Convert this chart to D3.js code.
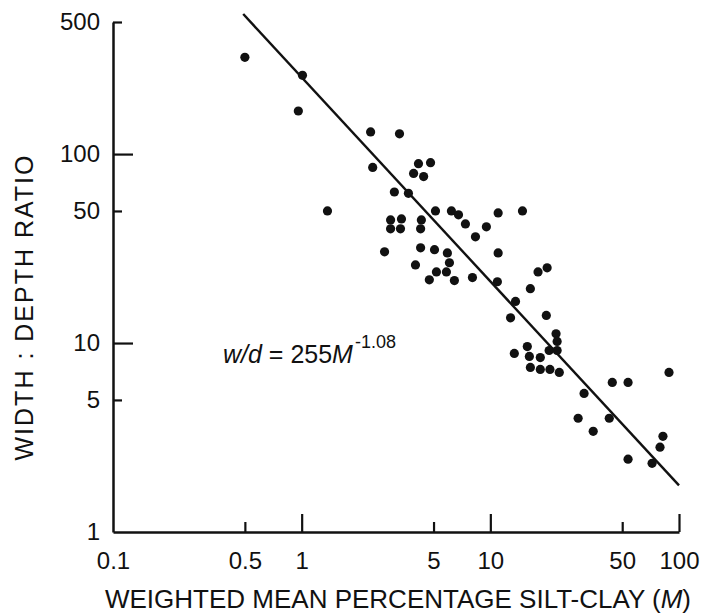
<!DOCTYPE html>
<html>
<head>
<meta charset="utf-8">
<script src="https://cdn.jsdelivr.net/npm/d3@7"></script>
<style>
  body { margin: 0; background: #fff; }
  text { font-family: "Liberation Sans", Arial, Helvetica, sans-serif; fill: #111; }
</style>
</head>
<body>
<script>

var margin = {top: 22, right: 25, bottom: 83, left: 113};

var width = 704 - margin.left - margin.right;   // 566 px, three decades
var height = 615 - margin.top - margin.bottom;  // 510 px

// percentage silt-clay (M) of each sample
var siltClay = [0.50, 1.01, 0.96, 1.37, 2.32, 3.30, 2.38, 4.16, 4.82, 3.92,
                4.43, 3.10, 3.68, 5.12, 6.22, 6.78, 11.0, 14.8, 2.96, 2.96,
                3.38, 3.34, 4.31, 4.27, 7.38, 9.53, 8.34, 2.75, 4.27, 5.06,
                5.92, 6.07, 11.0, 4.01, 5.18, 5.85, 4.75, 6.45, 8.04, 10.9,
                17.9, 20.0, 16.3, 13.6, 12.8, 19.8, 22.3, 22.6, 15.7, 20.5,
                22.6, 13.4, 16.1, 18.4, 16.3, 18.4, 20.7, 23.2, 88.5, 44.3,
                53.7, 31.4, 29.2, 42.7, 35.1, 82.2, 79.3, 53.7, 72.0];

// width : depth ratio of each sample
var widthDepth = [325, 261, 169, 50, 131, 128, 85, 89, 90, 79,
                  76, 63, 62, 50, 50, 47.7, 48.8, 50, 44.8, 40.2,
                  45.4, 40.2, 44.8, 40.2, 42.7, 41.2, 36.5, 30.4, 31.9, 31.2,
                  30.0, 26.6, 30.0, 25.9, 23.8, 23.8, 21.6, 21.4, 22.2, 21.1,
                  23.8, 25.0, 19.4, 16.6, 13.6, 14.0, 11.2, 10.2, 9.58, 9.13,
                  9.13, 8.81, 8.49, 8.38, 7.43, 7.25, 7.25, 6.99, 6.99, 6.19,
                  6.19, 5.41, 4.0, 4.0, 3.41, 3.21, 2.81, 2.43, 2.31];

var xTicks = [0.1, 0.5, 1, 5, 10, 50, 100];
var yTicks = [1, 5, 10, 50, 100, 500];

// fitted relation w/d = 255 M^-1.08, drawn from M = 0.49 to 100
var fitCoef = 255;
var fitExp = -1.08;
var fitRange = [0.49, 100];

var myData = siltClay.map(function(m, i) { return {x: m, y: widthDepth[i]}; });

var xScale = d3.scaleLog().domain([0.1, 100]).range([0, width]);
var yScale = d3.scaleLog().domain([1, 500]).range([height, 0]);

var svg = d3.select("body").append("svg")
    .attr("width", width + margin.left + margin.right)
    .attr("height", height + margin.top + margin.bottom)
    .append("g")
    .attr("transform", "translate(" + margin.left + "," + margin.top + ")");

function isMajor(v) {
    var l = Math.log10(v);
    return Math.abs(l - Math.round(l)) < 1e-6;
}

// axes: labels from d3, tick marks pointing into the plot
var xAxis = d3.axisBottom(xScale)
    .tickValues(xTicks)
    .tickFormat(d3.format(""))
    .tickSizeOuter(0)
    .tickSizeInner(0)
    .tickPadding(20);

var yAxis = d3.axisLeft(yScale)
    .tickValues(yTicks)
    .tickFormat(d3.format(""))
    .tickSizeOuter(0)
    .tickSizeInner(0)
    .tickPadding(13);

var gx = svg.append("g")
    .attr("class", "x axis")
    .attr("transform", "translate(0," + height + ")")
    .call(xAxis);

var gy = svg.append("g")
    .attr("class", "y axis")
    .call(yAxis);

gx.selectAll(".tick line")
    .attr("y2", function(d) { return d === 0.1 ? 0 : (isMajor(d) ? -18 : -10); });
gy.selectAll(".tick line")
    .attr("x2", function(d) { return d === 1 ? 0 : (isMajor(d) ? 20 : 9); });

svg.selectAll(".axis path.domain").attr("stroke", "#111").attr("stroke-width", 2.5);
svg.selectAll(".axis .tick line").attr("stroke", "#111").attr("stroke-width", 2.2);
svg.selectAll(".axis text")
    .style("font-size", "24px")
    .style("font-family", "'Liberation Sans', Arial, sans-serif")
    .attr("fill", "#111");

// fitted line
var fitLine = d3.line()
    .x(function(m) { return xScale(m); })
    .y(function(m) { return yScale(fitCoef * Math.pow(m, fitExp)); });

svg.append("path")
    .datum(fitRange)
    .attr("d", fitLine)
    .attr("fill", "none")
    .attr("stroke", "#111")
    .attr("stroke-width", 2.4);

// data points
svg.selectAll("circle")
    .data(myData)
    .enter()
    .append("circle")
    .attr("cx", function(d) { return xScale(d.x); })
    .attr("cy", function(d) { return yScale(d.y); })
    .attr("r", 4.6)
    .attr("fill", "#111");

// equation label
var eq = svg.append("text")
    .attr("x", 110)
    .attr("y", 341)
    .style("font-size", "25px");
eq.append("tspan").style("font-style", "italic").text("w/d");
eq.append("tspan").text(" = 255");
eq.append("tspan").style("font-style", "italic").text("M");
eq.append("tspan").attr("dy", -15).attr("dx", 2).style("font-size", "18px").text("-1.08");

// axis titles
svg.append("text")
    .attr("transform", "translate(-80," + 285 + ") rotate(-90)")
    .attr("text-anchor", "middle")
    .style("font-size", "25px")
    .style("letter-spacing", "2px")
    .text("WIDTH : DEPTH RATIO");

var xt = svg.append("text")
    .attr("x", 285)
    .attr("y", 586)
    .attr("text-anchor", "middle")
    .style("font-size", "26px");
xt.append("tspan").text("WEIGHTED MEAN PERCENTAGE SILT-CLAY (");
xt.append("tspan").style("font-style", "italic").text("M");
xt.append("tspan").text(")");

</script>
</body>
</html>
